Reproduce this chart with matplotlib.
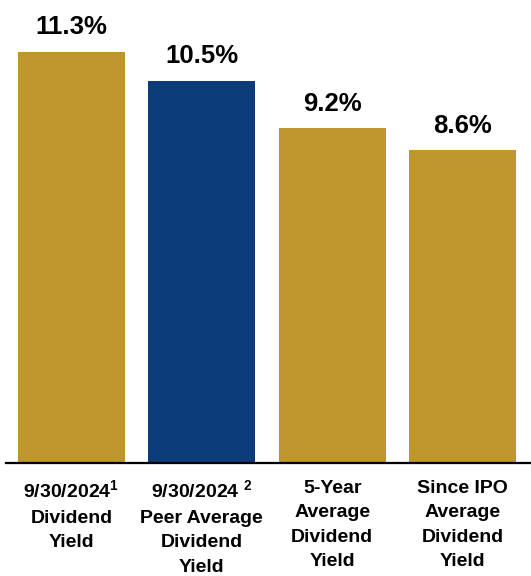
import matplotlib
matplotlib.use("Agg")
import matplotlib.pyplot as plt

# data
categories = ["9/30/2024$^{\\mathbf{1}}$\nDividend\nYield",
              "9/30/2024 $^{\\mathbf{2}}$\nPeer Average\nDividend\nYield",
              "5-Year\nAverage\nDividend\nYield",
              "Since IPO\nAverage\nDividend\nYield"]
yields = [11.3, 10.5, 9.2, 8.6]
value_labels = ["11.3%", "10.5%", "9.2%", "8.6%"]

GOLD = "#BE962D"
NAVY = "#0C3D7A"
colors = [GOLD, NAVY, GOLD, GOLD]

plt.rcParams['font.family'] = ['Liberation Sans', 'DejaVu Sans']
plt.rcParams['mathtext.fontset'] = 'custom'
plt.rcParams['mathtext.bf'] = 'Liberation Sans:bold'
plt.rcParams['mathtext.rm'] = 'Liberation Sans:bold'

fig = plt.figure(figsize=(5.31, 5.76), dpi=100)
ax = fig.add_axes([6/531, 113/576, 1 - 6/531, 463/576])

x = range(len(yields))
ax.bar(x, yields, width=0.82, color=colors)

for i, v in enumerate(yields):
    ax.annotate(value_labels[i], (i, v), xytext=(0, 12.5), textcoords="offset points",
                ha="center", va="baseline", fontsize=18.5, fontweight="bold", color="black")

ax.set_xlim(-0.502, 3.525)
ax.set_ylim(0, 12.72)
ax.set_xticks(list(x))
ax.set_xticklabels(categories, fontsize=14, fontweight="bold", linespacing=1.58, ha="center", va="top")
ax.tick_params(axis="x", length=0, pad=12)
ax.set_yticks([])

for s in ["top", "right", "left"]:
    ax.spines[s].set_visible(False)
ax.spines["bottom"].set_linewidth(1.6)
ax.spines["bottom"].set_color("black")

fig.savefig("out.png", dpi=100)
